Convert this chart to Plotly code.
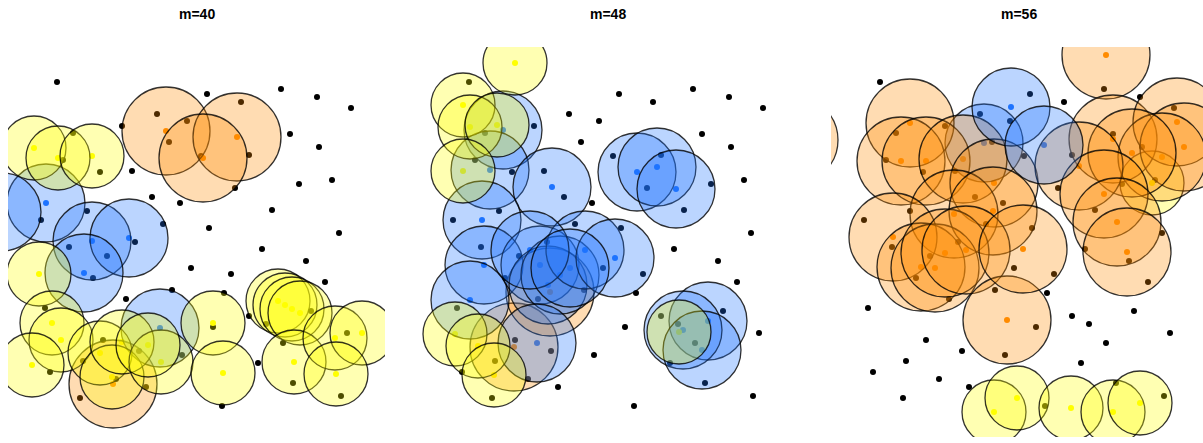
import plotly.graph_objects as go

# ---- data -------------------------------------------------------------
# observed points (shared by every panel)
pts_x = [57, 122, 157, 187, 169, 132, 100, 152, 180,
         207, 241, 281, 317, 351, 290, 319, 249, 235, 299, 332, 272, 209, 339,
         41, 87, 163, 73, 63, 201,
         69, 107, 93, 135, 191, 172, 126, 45, 182, 80, 146,
         231, 262, 306, 325, 224, 213, 249, 258, 222, 283, 293, 341, 347,
         103, 311, 266, 83, 50, 116, 139]
pts_y = [82, 126, 114, 121, 142, 171, 172, 197, 203,
         94, 102, 89, 97, 108, 134, 147, 155, 188, 184, 180, 210, 228, 233,
         220, 211, 224, 133, 160, 156,
         247, 256, 278, 242, 268, 290, 299, 308, 355, 398, 387,
         274, 249, 261, 282, 293, 327, 316, 363, 406, 343, 383, 396, 333,
         340, 311, 324, 361, 372, 379, 351]

titles = ["m=40", "m=48", "m=56"]

# ball centres for each panel and the group each belongs to (drawn in this order)
c1_x = [113, 166, 237, 203,
        46, 2, 92, 129, 84, 160,
        34, 58, 92, 39, 52, 61, 32, 100, 112, 122, 161, 148, 213, 223,
        278, 285, 292, 300, 294, 335, 362, 336]
c1_y = [384, 131, 137, 158,
        203, 212, 241, 238, 273, 328,
        148, 158, 156, 274, 323, 340, 365, 353, 377, 342, 362, 345, 323, 373,
        301, 305, 309, 313, 362, 338, 333, 374]
c1_g = ["O"] * 4 + ["B"] * 6 + ["Y"] * 22

c2_x = [102, 138,
        91, 78, 140, 70, 72, 58, 128, 136, 148, 173, 203, 225, 245, 264, 296, 271, 290,
        125, 118, 158,
        103, 51, 58, 85, 51, 43, 66, 82, 267]
c2_y = [347, 292,
        130, 170, 187, 220, 265, 300, 265, 285, 275, 250, 258, 172, 167, 189, 321, 330, 350,
        343, 250, 268,
        63, 105, 127, 125, 171, 334, 346, 375, 332]
c2_g = ["O"] * 2 + ["B"] * 20 + ["Y"] * 9

c3_x = [329, 161,
        -29, 87, 78, 103, 140, 171, 131, 170, 70, 98, 112, 122, 143, 184,
        283, 290, 354, 361, 339, 309, 256, 281, 294, 304, 200,
        188, 221,
        171, 194, 248, 290, 317]
c3_y = [183, 143,
        140, 123, 161, 161, 159, 183, 214, 211, 237, 267, 268, 253, 250, 320,
        55, 139, 122, 147, 157, 153, 166, 194, 222, 252, 249,
        107, 145,
        412, 398, 408, 412, 403]
c3_g = ["Y", "B"] + ["O"] * 25 + ["B"] * 2 + ["Y"] * 5

centres = [(c1_x, c1_y, c1_g), (c2_x, c2_y, c2_g), (c3_x, c3_y, c3_g)]

# ball radius of each group and its colour
radius = {"Y": 32, "B": 39, "O": 44}
colour = {"Y": (255, 255, 0), "B": (30, 115, 255), "O": (255, 140, 0)}

# ---- layout -----------------------------------------------------------
W, H = 1203, 443
panel_px = [(8, 385), (420, 797), (831, 1203)]
x_ranges = [[8, 385], [8, 385], [8, 380]]
title_px = [196.5, 607.5, 1019]
y_top, y_bot = 47, 437

fig = go.Figure()
shapes = []
annotations = []

for i, (cx, cy, cg) in enumerate(centres):
    ax = "" if i == 0 else str(i + 1)
    xref, yref = "x" + ax, "y" + ax

    fig.add_trace(go.Scatter(
        x=pts_x, y=pts_y, mode="markers", xaxis=xref, yaxis=yref,
        marker=dict(size=6, color="black", line=dict(width=0)),
        hoverinfo="skip", showlegend=False))

    fig.add_trace(go.Scatter(
        x=cx, y=cy, mode="markers", xaxis=xref, yaxis=yref,
        marker=dict(size=6, color=["rgb(%d,%d,%d)" % colour[g] for g in cg],
                    line=dict(width=0)),
        hoverinfo="skip", showlegend=False))

    for x, y, g in zip(cx, cy, cg):
        r = radius[g]
        shapes.append(dict(
            type="circle", xref=xref, yref=yref, layer="above",
            x0=x - r, x1=x + r, y0=y - r, y1=y + r,
            fillcolor="rgba(%d,%d,%d,0.3)" % colour[g],
            line=dict(color="rgba(0,0,0,0.8)", width=1.3)))

    x0, x1 = panel_px[i]
    axis_common = dict(visible=False, showgrid=False, zeroline=False, fixedrange=True)
    fig.update_layout(**{
        "xaxis" + ax: dict(domain=[x0 / W, x1 / W], range=x_ranges[i],
                           anchor=yref, **axis_common),
        "yaxis" + ax: dict(domain=[(H - y_bot) / H, (H - y_top) / H],
                           range=[y_bot, y_top], anchor=xref, **axis_common),
    })

    annotations.append(dict(
        text="<b>%s</b>" % titles[i], xref="paper", yref="paper",
        x=title_px[i] / W, y=1 - 14 / H, xanchor="center", yanchor="middle",
        showarrow=False, font=dict(family="Liberation Sans, Arial", size=14, color="black")))

fig.update_layout(
    width=W, height=H, margin=dict(l=0, r=0, t=0, b=0),
    paper_bgcolor="white", plot_bgcolor="white",
    shapes=shapes, annotations=annotations, hovermode=False, showlegend=False)

fig.write_html("out.html")
